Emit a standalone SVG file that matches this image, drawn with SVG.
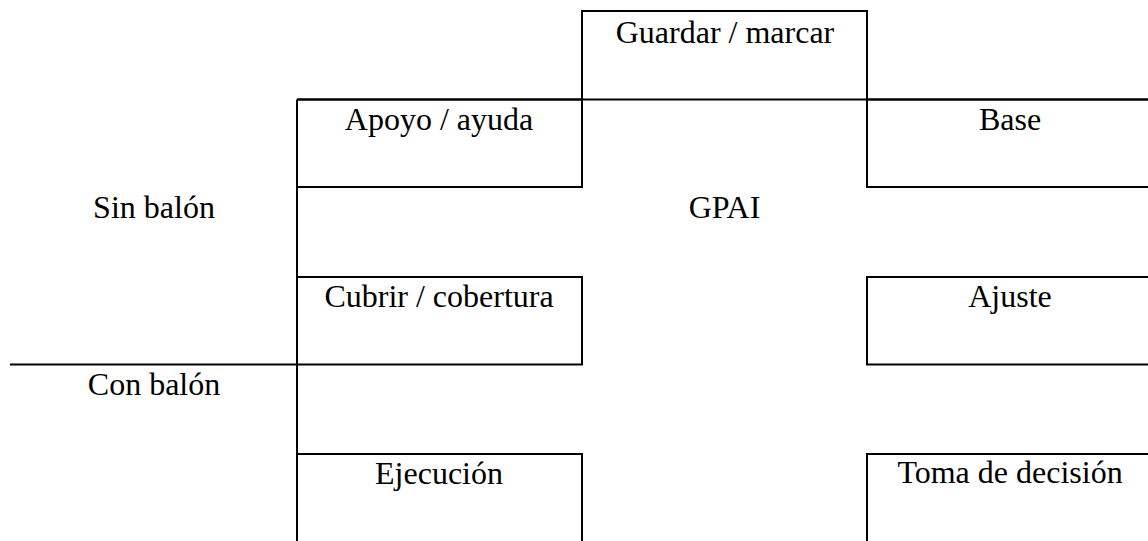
<svg xmlns="http://www.w3.org/2000/svg" width="1148" height="541" viewBox="0 0 1148 541">
<style>
.b{fill:none;stroke:#000;stroke-width:2}
.l{stroke:#000;stroke-width:2;fill:none}
.t{font-family:'Liberation Serif', 'DejaVu Serif', serif;font-size:32px;fill:#000;text-anchor:middle}
</style>
<rect width="1148" height="541" fill="#fff"/>
<g id="connectors">
<line class="l" x1="297" y1="99.5" x2="1148" y2="99.5"/>
<line class="l" x1="297" y1="99.5" x2="297" y2="541"/>
<line class="l" x1="10" y1="364.5" x2="297" y2="364.5"/>
</g>
<g id="guardar"><path class="b" d="M582,187 V11 H867 V187"/><text class="t" x="725" y="43">Guardar / marcar</text></g>
<g id="apoyo"><path class="b" d="M297,99.5 H582 V187 H297"/><text class="t" x="439" y="130">Apoyo / ayuda</text></g>
<g id="base"><path class="b" d="M1150,187 H867 V99.5 H1150"/><text class="t" x="1010" y="130">Base</text></g>
<g id="sinbalon"><text class="t" x="154" y="218">Sin balón</text></g>
<g id="gpai"><text class="t" x="724.5" y="218">GPAI</text></g>
<g id="cubrir"><path class="b" d="M297,277 H582 V364.5 H297"/><text class="t" x="439" y="307">Cubrir / cobertura</text></g>
<g id="ajuste"><path class="b" d="M1150,277 H867 V364.5 H1150"/><text class="t" x="1010" y="307">Ajuste</text></g>
<g id="conbalon"><text class="t" x="154" y="395">Con balón</text></g>
<g id="ejecucion"><path class="b" d="M297,454 H582 V545"/><text class="t" x="439" y="484">Ejecución</text></g>
<g id="toma"><path class="b" d="M1150,454 H867 V545"/><text class="t" x="1010" y="483">Toma de decisión</text></g>
</svg>
